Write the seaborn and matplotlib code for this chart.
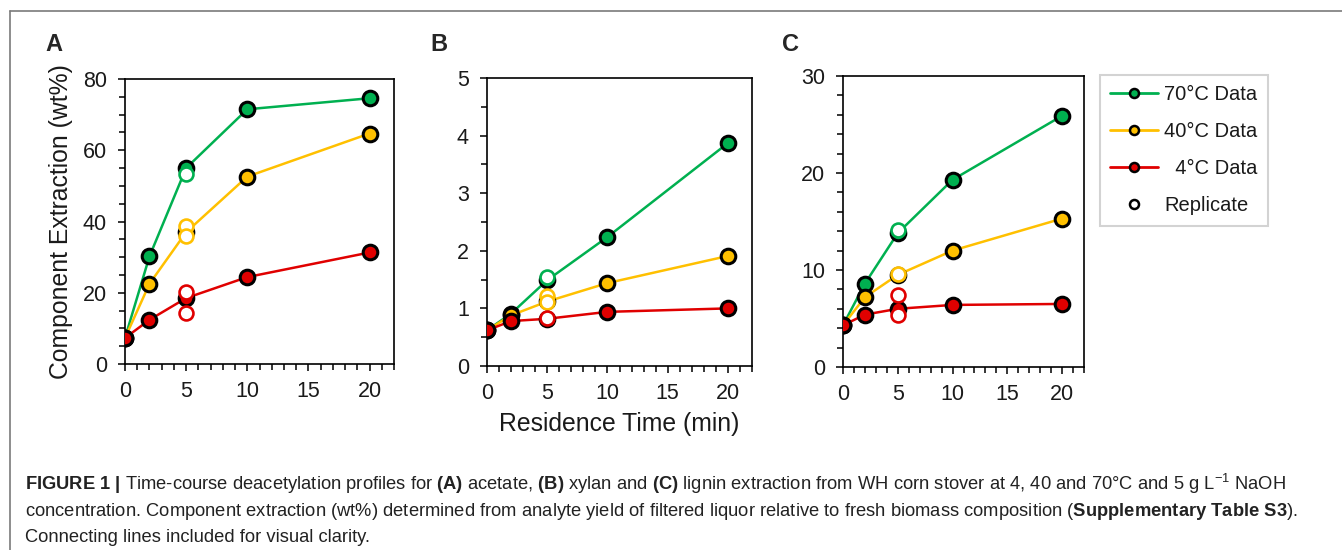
import numpy as np
import pandas as pd
import matplotlib
matplotlib.use("Agg")
import matplotlib.pyplot as plt
from matplotlib.lines import Line2D
from matplotlib.ticker import MultipleLocator
import seaborn as sns

# data
time = [0, 2, 5, 10, 20]
temps = ["70°C", "40°C", "4°C"]
colors = {"70°C": "#00B050", "40°C": "#FFC000", "4°C": "#E00000"}

# (A) acetate
acetate_70 = [7.3, 30.2, 55.0, 71.5, 74.6]
acetate_40 = [7.3, 22.5, 37.0, 52.6, 64.7]
acetate_4 = [7.3, 12.4, 18.5, 24.4, 31.3]
acetate_rep_70 = [53.4]
acetate_rep_40 = [38.8, 36.0]
acetate_rep_4 = [20.1, 14.3]

# (B) xylan
xylan_70 = [0.62, 0.91, 1.49, 2.24, 3.87]
xylan_40 = [0.62, 0.88, 1.12, 1.44, 1.91]
xylan_4 = [0.62, 0.78, 0.82, 0.94, 1.00]
xylan_rep_70 = [1.55]
xylan_rep_40 = [1.22, 1.11]
xylan_rep_4 = [0.84]

# (C) lignin
lignin_70 = [4.3, 8.6, 13.8, 19.3, 25.9]
lignin_40 = [4.3, 7.2, 9.5, 12.0, 15.3]
lignin_4 = [4.3, 5.4, 6.0, 6.4, 6.5]
lignin_rep_70 = [14.1]
lignin_rep_40 = [9.6]
lignin_rep_4 = [7.4, 5.4]
rep_time = 5

panels = [
    ("A", [acetate_70, acetate_40, acetate_4],
     [acetate_rep_70, acetate_rep_40, acetate_rep_4], 80, 20, 5),
    ("B", [xylan_70, xylan_40, xylan_4],
     [xylan_rep_70, xylan_rep_40, xylan_rep_4], 5, 1, 0.5),
    ("C", [lignin_70, lignin_40, lignin_4],
     [lignin_rep_70, lignin_rep_40, lignin_rep_4], 30, 10, 2),
]

sns.set_theme(style="ticks")
plt.rcParams["font.family"] = ["Liberation Sans", "DejaVu Sans"]
plt.rcParams["mathtext.fontset"] = "custom"
plt.rcParams["mathtext.rm"] = "Liberation Sans"
plt.rcParams["mathtext.bf"] = "Liberation Sans:bold"
plt.rcParams["mathtext.it"] = "Liberation Sans:italic"

fig = plt.figure(figsize=(13.42, 5.5), dpi=100)

# axes boxes in pixels: left, top, right, bottom
boxes = [(125, 79, 394, 364), (487, 78, 752, 366), (843, 76, 1084, 367)]
letter_x = [45, 430, 782]
W, H = 1342, 550

axes = []
for (name, series, reps, ymax, ymaj, ymin), (l, t, r, b), lx in zip(panels, boxes, letter_x):
    ax = fig.add_axes([l / W, 1 - b / H, (r - l) / W, (b - t) / H])
    for temp, vals in zip(temps, series):
        df = pd.DataFrame({"time": time, "value": vals})
        sns.lineplot(data=df, x="time", y="value", ax=ax, color=colors[temp],
                     lw=1.8, marker="o", markersize=10.5, markeredgecolor="black",
                     markeredgewidth=2.2, markerfacecolor=colors[temp], zorder=3)
    for temp, rv in zip(temps, reps):
        df = pd.DataFrame({"time": [rep_time] * len(rv), "value": rv})
        sns.scatterplot(data=df, x="time", y="value", ax=ax, s=100,
                        facecolor="white", edgecolor=colors[temp],
                        linewidth=1.9, zorder=4)
    ax.set_xlim(0, 22)
    ax.set_ylim(0, ymax)
    ax.set_xticks([0, 5, 10, 15, 20])
    ax.xaxis.set_minor_locator(MultipleLocator(1))
    ax.yaxis.set_major_locator(MultipleLocator(ymaj))
    ax.yaxis.set_minor_locator(MultipleLocator(ymin))
    ax.tick_params(axis="both", which="major", direction="out", length=5,
                   width=1.1, color="black", labelsize=15.5, labelcolor="#1a1a1a")
    ax.tick_params(axis="y", which="major", pad=8)
    ax.tick_params(axis="x", which="major", pad=7)
    ax.tick_params(axis="both", which="minor", direction="out", length=4,
                   width=1.1, color="black")
    for sp in ax.spines.values():
        sp.set_visible(True)
        sp.set_color("black")
        sp.set_linewidth(1.2)
    ax.set_xlabel("")
    ax.set_ylabel("")
    fig.text(lx / W, 1 - 51 / H, name, fontsize=17, fontweight="bold",
             ha="left", va="baseline")
    axes.append(ax)

axes[0].set_ylabel("Component Extraction (wt%)", fontsize=17.8, labelpad=7,
                   color="#1a1a1a")
axes[1].set_xlabel("Residence Time (min)", fontsize=17.8, labelpad=6,
                   color="#1a1a1a")

handles = [Line2D([], [], color=colors[t], lw=2, marker="o", markersize=6.5,
                  markerfacecolor=colors[t], markeredgecolor="black",
                  markeredgewidth=1.8) for t in temps]
handles.append(Line2D([], [], lw=0, marker="o", markersize=6.5,
                      markerfacecolor="white", markeredgecolor="black",
                      markeredgewidth=1.8))
labels = ["70°C Data", "40°C Data", "  4°C Data", "Replicate"]
leg = fig.legend(handles, labels, loc="upper left",
                 bbox_to_anchor=(1100 / W, 1 - 75 / H), fontsize=14.5,
                 frameon=True, fancybox=False, handlelength=2.4,
                 handletextpad=0.3, labelspacing=0.9, borderpad=0.5,
                 borderaxespad=0)
leg.get_frame().set_edgecolor("#c8c8c8")
leg.get_frame().set_linewidth(1.5)
for txt in leg.get_texts():
    txt.set_color("#1a1a1a")

# outer frame (top and left only)
fig.add_artist(Line2D([10 / W, 1], [1 - 10.5 / H] * 2, color="#7a7a7a", lw=1.2))
fig.add_artist(Line2D([10 / W] * 2, [0, 1 - 10.5 / H], color="#7a7a7a", lw=1.2))

caption = [
    r"$\mathbf{FIGURE\ 1\ |}$ Time-course deacetylation profiles for $\mathbf{(A)}$ acetate, "
    r"$\mathbf{(B)}$ xylan and $\mathbf{(C)}$ lignin extraction from WH corn stover at 4, 40 and "
    r"70°C and 5 g L$^{-1}$ NaOH",
    r"concentration. Component extraction (wt%) determined from analyte yield of filtered liquor "
    r"relative to fresh biomass composition ($\mathbf{Supplementary\ Table\ S3}$).",
    "Connecting lines included for visual clarity.",
]
for i, line in enumerate(caption):
    fig.text(25 / W, 1 - (490 + 26 * i) / H, line, fontsize=13.2, color="#222222",
             ha="left", va="baseline")

fig.savefig("out.png", dpi=100)
